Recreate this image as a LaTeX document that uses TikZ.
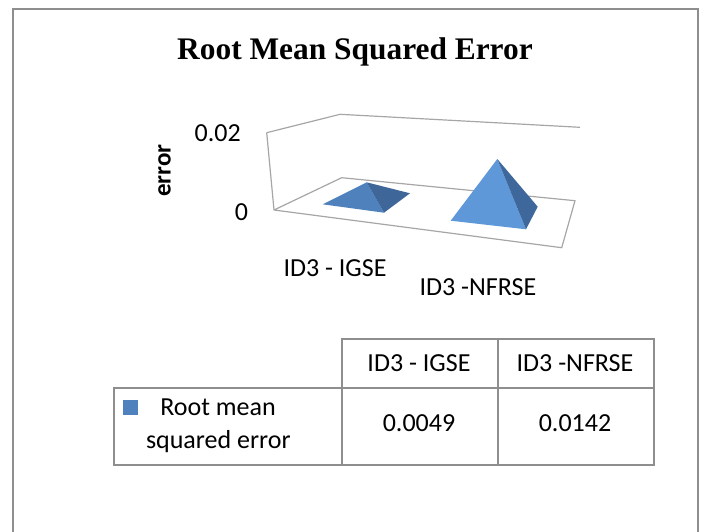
\documentclass[tikz,border=0pt]{standalone}
\usepackage{fontspec}
\setmainfont{Carlito}
\newfontfamily\titlefont{Liberation Serif}
\definecolor{framegray}{HTML}{8E8E8E}
\definecolor{axisgray}{HTML}{A6A6A6}
\definecolor{seriesblue}{HTML}{4F81BD}
\definecolor{lightface}{HTML}{5F98D9}
\definecolor{darkface}{HTML}{3E689C}
\definecolor{smalldark}{HTML}{3E6699}
\tikzset{
  lbl/.style={inner sep=0pt, font=\fontsize{26}{31}\selectfont},
  cell/.style={draw=framegray, line width=2pt, anchor=north west, inner sep=0pt},
  wall/.style={draw=axisgray, line width=1.2pt, line join=round},
}
\begin{document}
\begin{tikzpicture}[x=1pt,y=-1pt]
\useasboundingbox (0,0) rectangle (704,531);
\begin{scope}
\clip (0,0) rectangle (704,531);
% outer chart frame (its lower edge lies below the page)
\draw[framegray, line width=2pt] (13.3,545) -- (13.3,9) -- (698,9) -- (698,545);
\end{scope}

% title
\node[inner sep=0pt, anchor=base, font=\titlefont\bfseries\fontsize{31.4}{36}\selectfont]
  (title) at (355,59.3) {Root Mean Squared Error};

% 3-D plot box: back wall edge, side edge and floor
\draw[wall] (266.7,132.7) -- (340,114.3) -- (580,127.3);
\draw[wall] (266.7,132.7) -- (274,210);
\draw[wall] (274,210) -- (341.7,177.7) -- (575,200.7) -- (561.7,247.7) -- cycle;

% axis labels
\node[lbl, anchor=base east] (ytop) at (241,141.7) {0.02};
\node[lbl, anchor=base east] (yzero) at (248.3,220) {0};
\node[lbl, anchor=base, rotate=90, font=\bfseries\fontsize{25}{30}\selectfont]
  (ytitle) at (170.7,170.8) {error};
\node[lbl, anchor=base west] (catA) at (283.3,276) {ID3 - IGSE};
\node[lbl, anchor=base west] (catB) at (419.3,295.7) {ID3 -NFRSE};

% pyramid for ID3 - IGSE
\fill[seriesblue] (322.7,204.3) -- (366.7,182.3) -- (384,212.7) -- cycle;
\fill[smalldark] (366.7,182.3) -- (410,193.3) -- (384,212.7) -- cycle;
% pyramid for ID3 -NFRSE
\fill[lightface] (450.7,220.7) -- (497.3,159) -- (526,229.3) -- cycle;
\fill[darkface] (497.3,159) -- (537.7,206.7) -- (526,229.3) -- cycle;

% data table
\node[cell, minimum width=156.6pt, minimum height=48.4pt] (hA) at (340.7,338.3) {};
\node[cell, minimum width=155.4pt, minimum height=48.4pt] (hB) at (497.3,338.3) {};
\node[cell, minimum width=227.4pt, minimum height=77.3pt] (rowlbl) at (113.3,386.7) {};
\node[cell, minimum width=156.6pt, minimum height=77.3pt] (vA) at (340.7,386.7) {};
\node[cell, minimum width=155.4pt, minimum height=77.3pt] (vB) at (497.3,386.7) {};

\node[lbl, anchor=base] (hAtext) at (419,371) {ID3 - IGSE};
\node[lbl, anchor=base] (hBtext) at (575,371) {ID3 -NFRSE};
\node[lbl, anchor=base] (vAtext) at (419,431.7) {0.0049};
\node[lbl, anchor=base] (vBtext) at (575,431.7) {0.0142};

\fill[seriesblue] (122.7,400) rectangle (137.7,415);
\node[lbl, anchor=base] (rl1) at (218,415) {Root mean};
\node[lbl, anchor=base] (rl2) at (218.3,448.3) {squared error};
\end{tikzpicture}
\end{document}
